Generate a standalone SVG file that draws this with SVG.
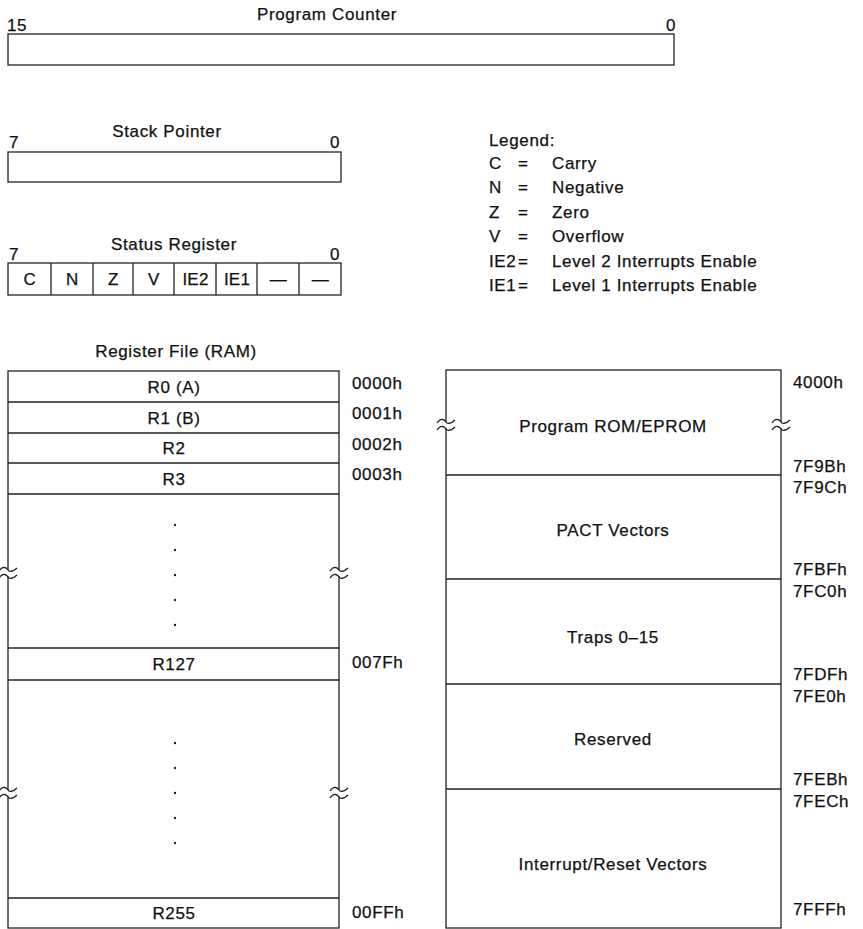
<svg xmlns="http://www.w3.org/2000/svg" width="863" height="929" viewBox="0 0 863 929">
<defs>
<style>
text{font-family:"Liberation Sans",Arial,sans-serif;font-size:17px;letter-spacing:0.65px;fill:#111;stroke:#111;stroke-width:0.25}
.c{text-anchor:middle}
.box{fill:none;stroke:#222;stroke-width:1.3}
.ln{stroke:#222;stroke-width:1.3}
.brk{fill:none;stroke:#222;stroke-width:1.3}
.dot{fill:#222}
</style>
<g id="brkmark">
<rect x="-10" y="-3" width="20" height="6" fill="#fff"/>
<path class="brk" d="M-9,-2 C-5,-8 -1,-5 0,-3 C1,-1 5,-1 9,-5"/>
<path class="brk" d="M-9,5 C-5,-1 -1,2 0,4 C1,6 5,6 9,2"/>
</g>
</defs>
<rect width="863" height="929" fill="#fff"/>

<g id="program-counter">
<text class="c" x="327" y="20">Program Counter</text>
<text x="7" y="31">15</text>
<text x="666" y="31">0</text>
<rect class="box" x="8" y="34" width="666" height="31"/>
</g>

<g id="stack-pointer">
<text class="c" x="167" y="137">Stack Pointer</text>
<text x="9" y="148">7</text>
<text x="330" y="148">0</text>
<rect class="box" x="8" y="152" width="333" height="30"/>
</g>

<g id="status-register">
<text class="c" x="174" y="250">Status Register</text>
<text x="9" y="260">7</text>
<text x="330" y="260">0</text>
<rect class="box" x="8" y="263" width="333" height="32"/>
<line class="ln" x1="51" y1="263" x2="51" y2="295"/>
<line class="ln" x1="93" y1="263" x2="93" y2="295"/>
<line class="ln" x1="133" y1="263" x2="133" y2="295"/>
<line class="ln" x1="174" y1="263" x2="174" y2="295"/>
<line class="ln" x1="216" y1="263" x2="216" y2="295"/>
<line class="ln" x1="257" y1="263" x2="257" y2="295"/>
<line class="ln" x1="299" y1="263" x2="299" y2="295"/>
<text class="c" x="30" y="285">C</text>
<text class="c" x="72.5" y="285">N</text>
<text class="c" x="113.5" y="285">Z</text>
<text class="c" x="154" y="285">V</text>
<text class="c" x="195.5" y="285" style="letter-spacing:0.2px">IE2</text>
<text class="c" x="237" y="285" style="letter-spacing:0.2px">IE1</text>
<text class="c" x="278.5" y="285">—</text>
<text class="c" x="320.5" y="285">—</text>
</g>

<g id="legend">
<text x="489" y="146">Legend:</text>
<text x="489" y="169">C</text><text x="518" y="169">=</text><text x="552" y="169">Carry</text>
<text x="489" y="193">N</text><text x="518" y="193">=</text><text x="552" y="193">Negative</text>
<text x="489" y="218">Z</text><text x="518" y="218">=</text><text x="552" y="218">Zero</text>
<text x="489" y="242">V</text><text x="518" y="242">=</text><text x="552" y="242">Overflow</text>
<text x="489" y="267">IE2</text><text x="518" y="267">=</text><text x="552" y="267">Level 2 Interrupts Enable</text>
<text x="489" y="291">IE1</text><text x="518" y="291">=</text><text x="552" y="291">Level 1 Interrupts Enable</text>
</g>

<g id="register-file">
<text class="c" x="176" y="357">Register File (RAM)</text>
<rect class="box" x="8" y="371" width="331" height="557"/>
<line class="ln" x1="8" y1="402" x2="339" y2="402"/>
<line class="ln" x1="8" y1="433" x2="339" y2="433"/>
<line class="ln" x1="8" y1="463" x2="339" y2="463"/>
<line class="ln" x1="8" y1="494" x2="339" y2="494"/>
<line class="ln" x1="8" y1="648" x2="339" y2="648"/>
<line class="ln" x1="8" y1="680" x2="339" y2="680"/>
<line class="ln" x1="8" y1="898" x2="339" y2="898"/>
<text class="c" x="174" y="393">R0 (A)</text>
<text class="c" x="174" y="424">R1 (B)</text>
<text class="c" x="174" y="454">R2</text>
<text class="c" x="174" y="485">R3</text>
<text class="c" x="174" y="670">R127</text>
<text class="c" x="174" y="919">R255</text>
<text x="352" y="389">0000h</text>
<text x="352" y="419">0001h</text>
<text x="352" y="450">0002h</text>
<text x="352" y="480">0003h</text>
<text x="352" y="668">007Fh</text>
<text x="352" y="918">00FFh</text>
<circle class="dot" cx="175" cy="525" r="1.2"/>
<circle class="dot" cx="175" cy="550" r="1.2"/>
<circle class="dot" cx="175" cy="575" r="1.2"/>
<circle class="dot" cx="175" cy="600" r="1.2"/>
<circle class="dot" cx="175" cy="625" r="1.2"/>
<circle class="dot" cx="175" cy="743" r="1.2"/>
<circle class="dot" cx="175" cy="768" r="1.2"/>
<circle class="dot" cx="175" cy="793" r="1.2"/>
<circle class="dot" cx="175" cy="818" r="1.2"/>
<circle class="dot" cx="175" cy="843" r="1.2"/>
<use href="#brkmark" x="8" y="573"/>
<use href="#brkmark" x="339" y="573"/>
<use href="#brkmark" x="8" y="793"/>
<use href="#brkmark" x="339" y="793"/>
</g>

<g id="memory-map">
<rect class="box" x="446" y="370" width="335" height="558"/>
<line class="ln" x1="446" y1="475" x2="781" y2="475"/>
<line class="ln" x1="446" y1="579" x2="781" y2="579"/>
<line class="ln" x1="446" y1="684" x2="781" y2="684"/>
<line class="ln" x1="446" y1="789" x2="781" y2="789"/>
<text class="c" x="613" y="432">Program ROM/EPROM</text>
<text class="c" x="613" y="536">PACT Vectors</text>
<text class="c" x="613" y="643">Traps 0–15</text>
<text class="c" x="613" y="745">Reserved</text>
<text class="c" x="613" y="870">Interrupt/Reset Vectors</text>
<text x="793" y="388">4000h</text>
<text x="793" y="472">7F9Bh</text>
<text x="793" y="493">7F9Ch</text>
<text x="793" y="575">7FBFh</text>
<text x="793" y="597">7FC0h</text>
<text x="793" y="680">7FDFh</text>
<text x="793" y="702">7FE0h</text>
<text x="793" y="785">7FEBh</text>
<text x="793" y="807">7FECh</text>
<text x="793" y="915">7FFFh</text>
<use href="#brkmark" x="446" y="425"/>
<use href="#brkmark" x="781" y="425"/>
</g>

<g id="connectors"/>
</svg>
